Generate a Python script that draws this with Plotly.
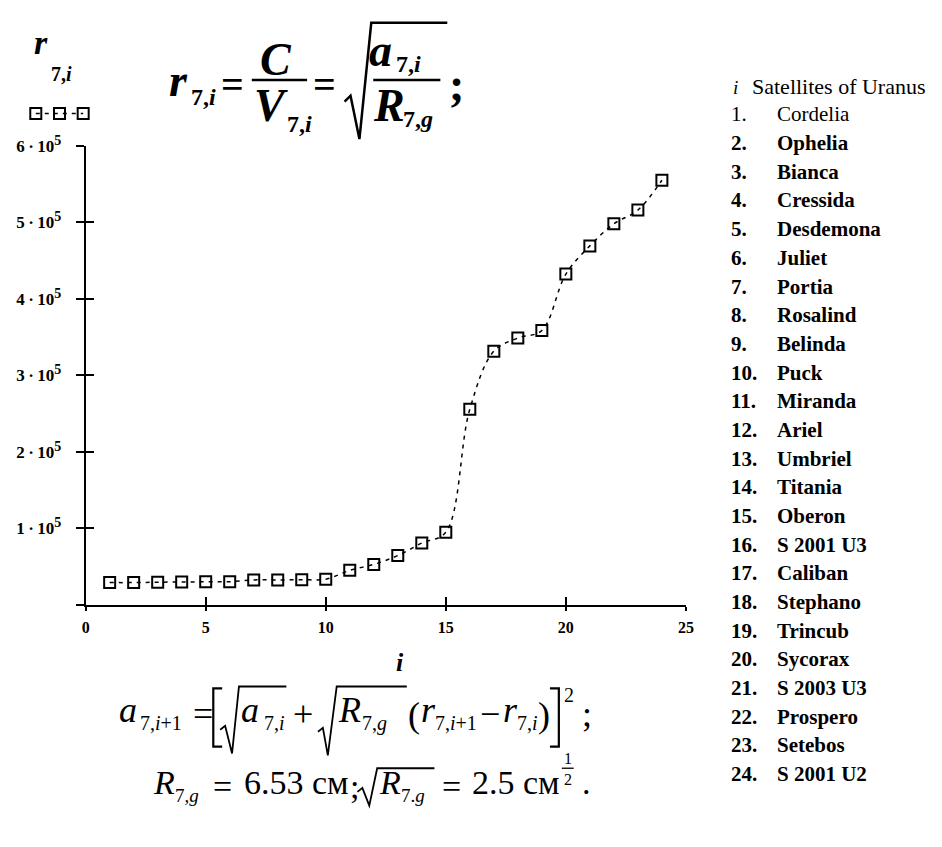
import plotly.graph_objects as go

W, H = 942, 847
SERIF = "Liberation Serif, Times New Roman, serif"

# satellite index and r_7,i values
idx = list(range(1, 25))
r_vals = [29000, 29000, 29500, 29800, 30000, 30200, 32500, 32500, 32800, 33500,
          45000, 52800, 64300, 80700, 94800, 255700, 331600, 348800, 358700,
          432400, 469300, 498100, 516100, 555100]

satellites = ["Cordelia", "Ophelia", "Bianca", "Cressida", "Desdemona", "Juliet",
              "Portia", "Rosalind", "Belinda", "Puck", "Miranda", "Ariel",
              "Umbriel", "Titania", "Oberon", "S 2001 U3", "Caliban", "Stephano",
              "Trincub", "Sycorax", "S 2003 U3", "Prospero", "Setebos", "S 2001 U2"]

x_ticks = [0, 5, 10, 15, 20, 25]
y_ticks = [0, 100000, 200000, 300000, 400000, 500000, 600000]
y_tick_text = [""] + ["<b>%d\u2009·\u200910<sup><span style='font-size:14px'>5</span></sup></b>" % k
                      for k in range(1, 7)]

# legend key sample
key_x = [0, 1, 2]
key_y = [0, 0, 0]


def X(px):
    return px / W


def Y(py):
    return 1 - py / H


# plot frame in pixels
PX0, PX1 = 82.7, 690.7
PY_TOP, PY_BOT = 135, 601

LINE = dict(color="black", width=1.5, dash="4px,5px", shape="spline", smoothing=1)
MARK = dict(symbol="square-open", size=11, color="black", line=dict(width=2, color="black"))

fig = go.Figure()
fig.add_trace(go.Scatter(x=idx, y=r_vals, mode="lines+markers", line=LINE,
                         marker=MARK, showlegend=False, hoverinfo="x+y"))
# overlay axes carrying the inner half of the crossing ticks
fig.add_trace(go.Scatter(x=[], y=[], xaxis="x2", yaxis="y2", showlegend=False))
# legend key
fig.add_trace(go.Scatter(x=key_x, y=key_y, xaxis="x3", yaxis="y3", mode="lines+markers",
                         line=dict(color="black", width=1.5, dash="4px,5px"),
                         marker=MARK, showlegend=False, hoverinfo="skip"))

xdom = [X(PX0), X(PX1)]
ydom = [Y(PY_BOT), Y(PY_TOP)]
tickfont = dict(family=SERIF, size=17, color="black")

common_x = dict(domain=xdom, range=[0, 25], showgrid=False, zeroline=False,
                tickvals=x_ticks, linecolor="black", tickcolor="black", tickwidth=2)
common_y = dict(domain=ydom, range=[0, 600000], showgrid=False, zeroline=False,
                tickvals=y_ticks, linecolor="black", tickcolor="black", tickwidth=2)

fig.update_layout(
    width=W, height=H,
    margin=dict(l=0, r=0, t=0, b=0),
    paper_bgcolor="white", plot_bgcolor="white",
    showlegend=False,
    xaxis=dict(**common_x, ticks="outside", ticklen=4, showline=True, linewidth=2,
               ticktext=["<b>%d</b>" % v for v in x_ticks],
               tickfont=dict(family=SERIF, size=16, color="black"),
               ticklabelstandoff=3),
    yaxis=dict(**common_y, ticks="outside", ticklen=8, showline=True, linewidth=2,
               ticktext=y_tick_text, tickfont=tickfont, ticklabelstandoff=11),
    xaxis2=dict(**common_x, overlaying="x", anchor="y2", side="bottom", ticks="inside",
                ticklen=8, showline=False, showticklabels=False),
    yaxis2=dict(**common_y, overlaying="y", anchor="x2", side="left", ticks="inside",
                ticklen=8, showline=False, showticklabels=False),
    xaxis3=dict(domain=[X(19), X(91)], range=[-0.55, 2.45], visible=False),
    yaxis3=dict(domain=[Y(111), Y(93)], range=[-1, 1], visible=False, anchor="x3"),
)

annotations = []
shapes = []


def piece(px, baseline, text, size, weight="normal", italic=False, anchor="left"):
    t = text
    if italic:
        t = "<i>%s</i>" % t
    if weight == "bold":
        t = "<b>%s</b>" % t
    annotations.append(dict(
        x=X(px), y=Y(baseline - 0.34 * size), xref="paper", yref="paper",
        text=t, showarrow=False, xanchor=anchor, yanchor="middle", borderpad=0,
        font=dict(family=SERIF, size=size, color="black")))


def path(points, width=2.0):
    d = "M " + " L ".join("%.5f,%.5f" % (X(a), Y(b)) for a, b in points)
    shapes.append(dict(type="path", path=d, xref="paper", yref="paper",
                       line=dict(color="black", width=width)))


# axis caption and series label
piece(396, 668, "i", 26, "bold", True)
piece(29, 42, "r", 34, "bold", True)
piece(47, 69, "7,<i>i</i>", 20, "bold")

# r_7,i = C / V_7,i = sqrt(a_7,i / R_7,g);
B = "bold"
piece(166, 84, "r", 46, B, True)
piece(188, 93, "7,<i>i</i>", 24, B)
piece(219, 86, "=", 40, B)
piece(258, 63, "C", 46, B, True)
path([(251, 68), (307, 68)], 2.5)
piece(252, 110, "V", 46, B, True)
piece(286, 121, "7,<i>i</i>", 24, B)
piece(312, 86, "=", 40, B)
path([(345, 90), (351, 84), (360, 128), (372, 10), (449, 10)], 2.5)
piece(369, 54, "a", 46, B, True)
piece(396, 60, "7,<i>i</i>", 24, B)
path([(374, 68), (442, 68)], 2.5)
piece(373, 110, "R", 46, B, True)
piece(403, 116, "7,<i>g</i>", 24, B)
piece(450, 88, ";", 46, B)

# a_7,i+1 = [sqrt(a_7,i) + sqrt(R_7,g)(r_7,i+1 - r_7,i)]^2;
S, s = 36, 20
piece(115, 720, "a", S, italic=True)
piece(137, 728, "7,<i>i</i>+1", s)
piece(190, 724, "=", S)
path([(221, 686), (212, 686), (212, 745), (221, 745)], 2.2)
path([(219, 728), (224, 724), (231, 752), (238, 684), (286, 684)], 1.8)
piece(239, 720, "a", S, italic=True)
piece(262, 728, "7,<i>i</i>", s)
piece(292, 724, "+", S)
path([(318, 730), (323, 726), (328, 754), (337, 684), (408, 684)], 1.8)
piece(337, 720, "R", S, italic=True)
piece(362, 728, "7,<i>g</i>", s)
piece(408, 725, "(", 36)
piece(421, 720, "r", S, italic=True)
piece(436, 728, "7,<i>i</i>+1", s)
piece(481, 724, "−", S)
piece(504, 720, "r", S, italic=True)
piece(519, 728, "7,<i>i</i>", s)
piece(540, 725, ")", 36)
path([(553, 686), (562, 686), (562, 745), (553, 745)], 2.2)
piece(566, 699, "2", s)
piece(584, 724, ";", S)

# R_7,g = 6.53 cm; sqrt(R_7.g) = 2.5 cm^(1/2).
L2, S2, s2 = 793, 34, 19
piece(150, L2, "R", S2, italic=True)
piece(172, L2 + 8, "7,<i>g</i>", s2)
piece(211, L2 + 4, "=", S2)
piece(242, L2, "6.53 см", S2)
piece(349, L2 + 4, ";", S2)
path([(358, L2 - 2), (363, L2 - 6), (370, L2 + 12), (378, L2 - 26), (436, L2 - 26)], 1.8)
piece(379, L2, "R", S2, italic=True)
piece(401, L2 + 8, "7.<i>g</i>", s2)
piece(443, L2 + 4, "=", S2)
piece(473, L2, "2.5 см", S2)
piece(566, L2 - 30, "1", 16)
path([(565, L2 - 26), (577, L2 - 26)], 1.3)
piece(566, L2 - 9, "2", 16)
piece(584, L2, ".", S2)

# satellite table
FS = 21
piece(737, 82, "i", 19, italic=True)
piece(757, 82, "Satellites of Uranus", 22)
for k, name in enumerate(satellites):
    cy = 103 + k * (773 - 103) / 23
    w = "normal" if k == 0 else "bold"
    piece(735, cy + 0.34 * FS, "%d." % (k + 1), FS, w)
    piece(782, cy + 0.34 * FS, name, FS, w)

fig.update_layout(annotations=annotations, shapes=shapes)
fig.write_html("out.html")
